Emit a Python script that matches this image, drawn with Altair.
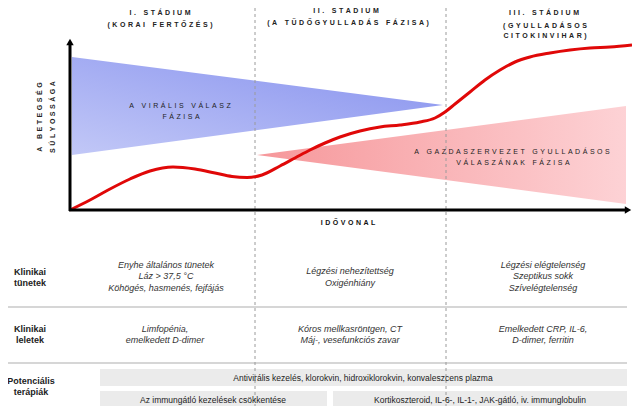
import altair as alt
import pandas as pd

FONT = "Liberation Sans"

# ---------------- data ----------------
# severity curve (reference pixel coordinates)
curve_x = [70, 90, 110, 130, 150, 173, 195, 215, 232, 247, 262, 280, 295, 310, 325, 340, 360, 380, 400, 420, 435, 445, 455, 470, 485, 500, 515, 530, 550, 570, 590, 610, 632]
curve_y = [210, 200, 189, 179, 171, 167, 169, 173, 176.5, 177.5, 175, 166, 158, 150, 143, 137, 131, 127, 125, 122, 118, 112, 104, 92, 80, 70, 62, 57, 53, 50, 48, 47, 45]

# phase wedges
viral_x = [72, 443]
viral_top = [57, 105]
viral_bottom = [155, 105]
host_x = [257, 626]
host_top = [155, 106]
host_bottom = [155, 204]

# stage boundaries
stage_bounds = [255, 446]

# texts
stage_texts = ["I. STÁDIUM", "(KORAI FERTŐZÉS)", "II. STÁDIUM", "(A TÜDŐGYULLADÁS FÁZISA)",
               "III. STÁDIUM", "(GYULLADÁSOS", "CITOKINVIHAR)"]
stage_tx = [160, 160, 346, 348, 544, 545, 545]
stage_ty = [13, 25, 11, 23, 13, 26, 36]

phase_texts = ["A VIRÁLIS VÁLASZ", "FÁZISA", "A GAZDASZERVEZET GYULLADÁSOS", "VÁLASZÁNAK FÁZISA"]
phase_tx = [180, 181, 512, 513]
phase_ty = [106, 117, 152, 163]

axis_texts = ["A BETEGSÉG", "SÚLYOSSÁGA"]
axis_tx = [40, 53]
axis_ty = [117, 117]
time_text = ["IDŐVONAL"]

row_labels = ["Klinikai", "tünetek", "Klinikai", "leletek", "Potenciális", "terápiák"]
row_lx = [30, 30, 30, 30, 31, 31]
row_ly = [272, 283, 329, 340, 381, 392]

cell_texts = ["Enyhe általános tünetek", "Láz > 37,5 °C", "Köhögés, hasmenés, fejfájás",
              "Légzési nehezítettség", "Oxigénhiány",
              "Légzési elégtelenség", "Szeptikus sokk", "Szívelégtelenség",
              "Limfopénia,", "emelkedett D-dimer",
              "Kóros mellkasröntgen, CT", "Máj-, vesefunkciós zavar",
              "Emelkedett CRP, IL-6,", "D-dimer, ferritin"]
cell_tx = [166, 166, 166, 350, 350, 543, 543, 543, 165, 165, 350, 350, 543, 543]
cell_ty = [265, 276, 288, 271, 283, 265, 276, 288, 329, 340, 329, 340, 329, 340]

therapy_texts = ["Antivirális kezelés, klorokvin, hidroxiklorokvin, konvaleszcens plazma",
                 "Az immungátló kezelések csökkentése",
                 "Kortikoszteroid, IL-6-, IL-1-, JAK-gátló, iv. immunglobulin"]
therapy_x1 = [100, 100, 333]
therapy_x2 = [627, 327, 627]
therapy_y1 = [369, 391, 391]
therapy_y2 = [386, 408, 408]
therapy_ty = [378, 400, 400]

sep_y = [307, 363]

# ---------------- helpers ----------------
xs = alt.Scale(domain=[8, 632], nice=False, zero=False)
ys = alt.Scale(domain=[8, 406], reverse=True, nice=False, zero=False)

GAP = "\u00a0\u200a"


def spaced(s):
    return (GAP * 3).join(GAP.join(list(w)) for w in s.split(" "))


def text_layer(texts, xv, yv, **kw):
    df = pd.DataFrame({"t": texts, "x": xv, "y": yv})
    return alt.Chart(df).mark_text(font=FONT, align="center", baseline="middle", **kw).encode(
        x=alt.X("x:Q", scale=xs, axis=None),
        y=alt.Y("y:Q", scale=ys, axis=None),
        text="t:N",
    )


layers = []

# separators
sep_df = pd.DataFrame({"y": sep_y, "x": [2] * 2, "x2": [627] * 2})
layers.append(alt.Chart(sep_df).mark_rule(color="#d6d6d6", strokeWidth=2).encode(
    x=alt.X("x:Q", scale=xs, axis=None), x2="x2:Q", y=alt.Y("y:Q", scale=ys, axis=None)))

# therapy bars
th_df = pd.DataFrame({"x": therapy_x1, "x2": therapy_x2, "y": therapy_y1, "y2": therapy_y2})
layers.append(alt.Chart(th_df).mark_rect(color="#ebebeb").encode(
    x=alt.X("x:Q", scale=xs, axis=None), x2="x2:Q",
    y=alt.Y("y:Q", scale=ys, axis=None), y2="y2:Q"))

# wedges
blue_grad = alt.Gradient(gradient="linear",
                         stops=[alt.GradientStop(offset=0, color="#c2c8f7"),
                                alt.GradientStop(offset=1, color="#8590ee")],
                         x1=0, y1=1, x2=1, y2=0)
viral_df = pd.DataFrame({"x": viral_x, "y": viral_top, "y2": viral_bottom})
layers.append(alt.Chart(viral_df).mark_area(color=blue_grad).encode(
    x=alt.X("x:Q", scale=xs, axis=None), y=alt.Y("y:Q", scale=ys, axis=None), y2="y2:Q"))

red_grad = alt.Gradient(gradient="linear",
                        stops=[alt.GradientStop(offset=0, color="#f6979a"),
                               alt.GradientStop(offset=1, color="#fdd2d5")],
                        x1=0, y1=0, x2=1, y2=0)
host_df = pd.DataFrame({"x": host_x, "y": host_top, "y2": host_bottom})
layers.append(alt.Chart(host_df).mark_area(color=red_grad).encode(
    x=alt.X("x:Q", scale=xs, axis=None), y=alt.Y("y:Q", scale=ys, axis=None), y2="y2:Q"))

# stage boundaries
b_df = pd.DataFrame({"x": stage_bounds, "y": [8] * 2, "y2": [406] * 2})
layers.append(alt.Chart(b_df).mark_rule(color="#9a9a9a", strokeWidth=1, strokeDash=[3, 3]).encode(
    x=alt.X("x:Q", scale=xs, axis=None), y=alt.Y("y:Q", scale=ys, axis=None), y2="y2:Q"))

# curve
c_df = pd.DataFrame({"x": curve_x, "y": curve_y})
layers.append(alt.Chart(c_df).mark_line(color="#e00808", strokeWidth=3, interpolate="monotone").encode(
    x=alt.X("x:Q", scale=xs, axis=None), y=alt.Y("y:Q", scale=ys, axis=None)))

# axes
ax_df = pd.DataFrame({"x": [70, 69], "x2": [70, 626], "y": [44, 210], "y2": [211, 210]})
layers.append(alt.Chart(ax_df).mark_rule(color="#000000", strokeWidth=3).encode(
    x=alt.X("x:Q", scale=xs, axis=None), x2="x2:Q",
    y=alt.Y("y:Q", scale=ys, axis=None), y2="y2:Q"))
arr_df = pd.DataFrame({"x": [70], "y": [42]})
layers.append(alt.Chart(arr_df).mark_point(shape="triangle-up", filled=True, color="#000", size=55, opacity=1).encode(
    x=alt.X("x:Q", scale=xs, axis=None), y=alt.Y("y:Q", scale=ys, axis=None)))
arr2_df = pd.DataFrame({"x": [628], "y": [210]})
layers.append(alt.Chart(arr2_df).mark_point(shape="triangle-right", filled=True, color="#000", size=55, opacity=1).encode(
    x=alt.X("x:Q", scale=xs, axis=None), y=alt.Y("y:Q", scale=ys, axis=None)))

# texts
layers.append(text_layer([spaced(t) for t in stage_texts], stage_tx, stage_ty,
                         fontSize=7, fontWeight="bold", color="#222222"))
layers.append(text_layer([spaced(t) for t in phase_texts], phase_tx, phase_ty,
                         fontSize=7, color="#222222"))
layers.append(text_layer([spaced(t) for t in axis_texts], axis_tx, axis_ty,
                         fontSize=7, fontWeight="bold", color="#222222", angle=270))
layers.append(text_layer([spaced(t) for t in time_text], [348], [223],
                         fontSize=7, fontWeight="bold", color="#111111"))
layers.append(text_layer(row_labels, row_lx, row_ly,
                         fontSize=9, fontWeight="bold", color="#222222"))
layers.append(text_layer(cell_texts, cell_tx, cell_ty,
                         fontSize=9, fontStyle="italic", color="#333333"))
layers.append(text_layer(therapy_texts, [363, 213, 480], therapy_ty,
                         fontSize=8.5, color="#222222"))

chart = alt.layer(*layers).properties(
    width=624, height=398, autosize=alt.AutoSizeParams(type="none"), padding=0
).configure_view(stroke=None)

chart.save("out.html", embed_options={"renderer": "svg", "actions": False})
